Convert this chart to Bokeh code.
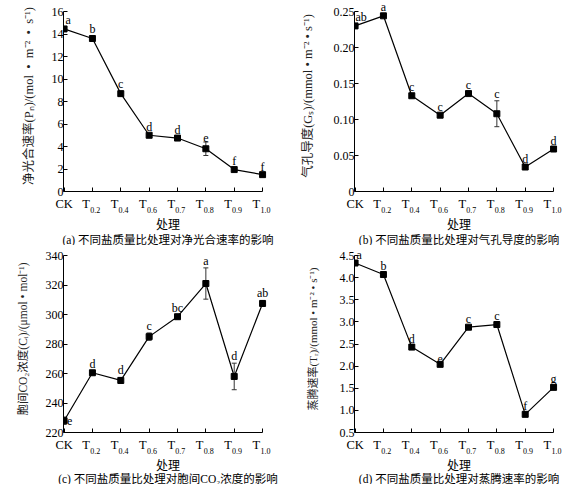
from bokeh.plotting import figure
from bokeh.layouts import gridplot
from bokeh.models import (ColumnDataSource, Whisker, TeeHead, Label, FixedTicker, CustomJSTickFormatter,
                          Range1d, LinearAxis, Title)
from bokeh.embed import file_html
from bokeh.resources import INLINE

treatments = ["CK", "T0.2", "T0.4", "T0.6", "T0.7", "T0.8", "T0.9", "T1.0"]

pn = [14.45, 13.6, 8.7, 5.0, 4.75, 3.8, 1.95, 1.5]
pn_err = [0.15, 0.2, 0.2, 0.1, 0.1, 0.6, 0.1, 0.1]
pn_letters = ["a", "b", "c", "d", "d", "e", "f", "f"]
pn_ticks = [0, 2, 4, 6, 8, 10, 12, 14, 16]

gs = [0.230, 0.244, 0.133, 0.106, 0.136, 0.108, 0.034, 0.059]
gs_err = [0.003, 0.002, 0.002, 0.002, 0.002, 0.018, 0.002, 0.002]
gs_letters = ["ab", "a", "c", "c", "c", "c", "d", "d"]
gs_ticks = [0, 0.05, 0.1, 0.15, 0.2, 0.25]

ci = [228.0, 260.5, 255.3, 285.0, 298.5, 321.0, 258.0, 307.5]
ci_err = [2.5, 1.5, 2.0, 2.5, 1.5, 10.6, 9.0, 2.0]
ci_letters = ["e", "d", "d", "c", "bc", "a", "d", "ab"]
ci_ticks = [220, 240, 260, 280, 300, 320, 340]

tr = [4.33, 4.07, 2.43, 2.04, 2.88, 2.94, 0.91, 1.52]
tr_err = [0.03, 0.03, 0.03, 0.03, 0.03, 0.03, 0.03, 0.03]
tr_letters = ["a", "b", "d", "e", "c", "c", "f", "g"]
tr_ticks = [0.5, 1.0, 1.5, 2.0, 2.5, 3.0, 3.5, 4.0, 4.5]

ylabels = [
    "净光合速率(Pₙ)/(mol\u2002•\u2002m⁻²\u2002•\u2002s⁻¹)",
    "气孔导度(Gₛ)/(mmol • m⁻² • s⁻¹)",
    "胞间CO₂浓度(Cᵢ)/(μmol • mol⁻¹)",
    "蒸腾速率(Tᵣ)/(mmol • m⁻² • s⁻¹)",
]
captions = [
    "(a) 不同盐质量比处理对净光合速率的影响",
    "(b) 不同盐质量比处理对气孔导度的影响",
    "(c) 不同盐质量比处理对胞间CO₂浓度的影响",
    "(d) 不同盐质量比处理对蒸腾速率的影响",
]
xlabel = "处理"

SERIF = "Liberation Serif"
CJK = "'Liberation Serif', 'Noto Sans CJK SC'"

main_labels = [t if t == "CK" else t[0] + "\u2003" for t in treatments]
sub_labels = ["" if t == "CK" else t[1:] for t in treatments]


def panel(vals, errs, letters, ticks, ylab, cap, fmt, W, H, left, top_pad, FH, standoff, ylab_size,
          cap_off, t1_so, t2_so, ck_letter_side=False, ck_dx=4):
    FW = 210
    ymin, ymax = ticks[0], ticks[-1]
    span = ymax - ymin
    p = figure(width=W, height=H, output_backend="svg", toolbar_location=None, title=None,
               x_range=Range1d(-0.02, 7.35), y_range=Range1d(ymin, ymax + span * top_pad / FH),
               min_border_left=left, min_border_right=W - left - FW,
               min_border_top=0, min_border_bottom=H - FH - top_pad)
    p.outline_line_color = None
    p.xgrid.visible = False
    p.ygrid.visible = False
    xs = list(range(len(treatments)))
    src = ColumnDataSource(dict(x=xs, y=vals, lo=[v - e for v, e in zip(vals, errs)],
                                hi=[v + e for v, e in zip(vals, errs)]))
    p.line("x", "y", source=src, line_color="black", line_width=1.2)
    p.scatter("x", "y", source=src, marker="square", size=6, fill_color="black", line_color="black")
    p.add_layout(Whisker(base="x", lower="lo", upper="hi", source=src, line_color="#333", line_width=1,
                         upper_head=TeeHead(size=5, line_color="#333", line_width=1),
                         lower_head=TeeHead(size=5, line_color="#333", line_width=1)))
    for ax in (p.xaxis[0], p.yaxis[0]):
        ax.axis_line_color = "black"
        ax.major_tick_line_color = "black"
        ax.major_tick_in = 4
        ax.major_tick_out = 0
        ax.minor_tick_line_color = None
    xa = p.xaxis[0]
    xa.bounds = (-0.02, 7)
    xa.ticker = FixedTicker(ticks=xs)
    xa.formatter = CustomJSTickFormatter(args=dict(labels=main_labels), code="return labels[index];")
    xa.major_label_text_font = SERIF
    xa.major_label_text_font_size = "12.5px"
    xa.major_label_text_color = "black"
    xa.major_label_standoff = 5
    sub = LinearAxis(ticker=FixedTicker(ticks=[x + 0.1 for x in xs[1:]]),
                     formatter=CustomJSTickFormatter(args=dict(labels=sub_labels[1:]), code="return labels[index];"),
                     axis_line_color=None, major_tick_line_color=None, minor_tick_line_color=None,
                     major_tick_in=0, major_tick_out=0, major_label_standoff=-7,
                     major_label_text_font=SERIF, major_label_text_font_size="8px",
                     major_label_text_color="black")
    p.add_layout(sub, "below")
    p.add_layout(Title(text=xlabel, align="center", text_font=CJK, text_font_size="12px",
                       text_font_style="normal", text_color="black", standoff=t1_so), "below")
    p.add_layout(Title(text=cap, align="center", offset=cap_off, text_font=CJK, text_font_size="11.5px",
                       text_font_style="normal", text_color="black", standoff=t2_so), "below")
    ya = p.yaxis[0]
    ya.bounds = (ymin, ymax)
    ya.ticker = FixedTicker(ticks=ticks)
    ya.formatter = CustomJSTickFormatter(code=fmt)
    ya.major_label_text_font = SERIF
    ya.major_label_text_font_size = "12px"
    ya.major_label_text_color = "black"
    ya.major_label_standoff = 0
    ya.axis_label = ylab
    ya.axis_label_text_font = CJK
    ya.axis_label_text_font_size = ylab_size
    ya.axis_label_text_font_style = "normal"
    ya.axis_label_text_color = "#222"
    ya.axis_label_standoff = standoff
    # significance letters
    for i, (v, e, l) in enumerate(zip(vals, errs, letters)):
        if i == 0 and ck_letter_side:
            p.add_layout(Label(x=i, y=v, x_offset=3, text=l, text_align="left", text_baseline="middle",
                               text_font=SERIF, text_font_size="12px", text_color="black"))
        else:
            p.add_layout(Label(x=i, y=v + e, x_offset=ck_dx if i == 0 else 0, y_offset=0, text=l,
                               text_align="center", text_baseline="bottom",
                               text_font=SERIF, text_font_size="12px", text_color="black"))
    return p


f0 = "return tick == 0 ? '0' : tick.toString();"
f2 = "return tick == 0 ? '0' : tick.toFixed(2);"
f1 = "return tick.toFixed(1);"

# row 1: height 245, frame 11..191 ; row 2: height 239, frame 10..187
p1 = panel(pn, pn_err, pn_letters, pn_ticks, ylabels[0], captions[0], f0, 291, 245, 62, 11, 180, 13, "12.5px",
           0, 0, 0)
p2 = panel(gs, gs_err, gs_letters, gs_ticks, ylabels[1], captions[1], f2, 275, 245, 62, 11, 180, 16, "12.5px",
           6, 0, 0, ck_dx=6)
p3 = panel(ci, ci_err, ci_letters, ci_ticks, ylabels[2], captions[2], f0, 291, 239, 63, 10, 177, 14, "11.5px",
           -12, 1, -5, ck_letter_side=True)
p4 = panel(tr, tr_err, tr_letters, tr_ticks, ylabels[3], captions[3], f1, 275, 239, 63, 10, 177, 18, "11px",
           -7, 1, -5)

grid = gridplot([[p1, p2], [p3, p4]], toolbar_location=None)
open("out.html", "w").write(file_html(grid, INLINE))
